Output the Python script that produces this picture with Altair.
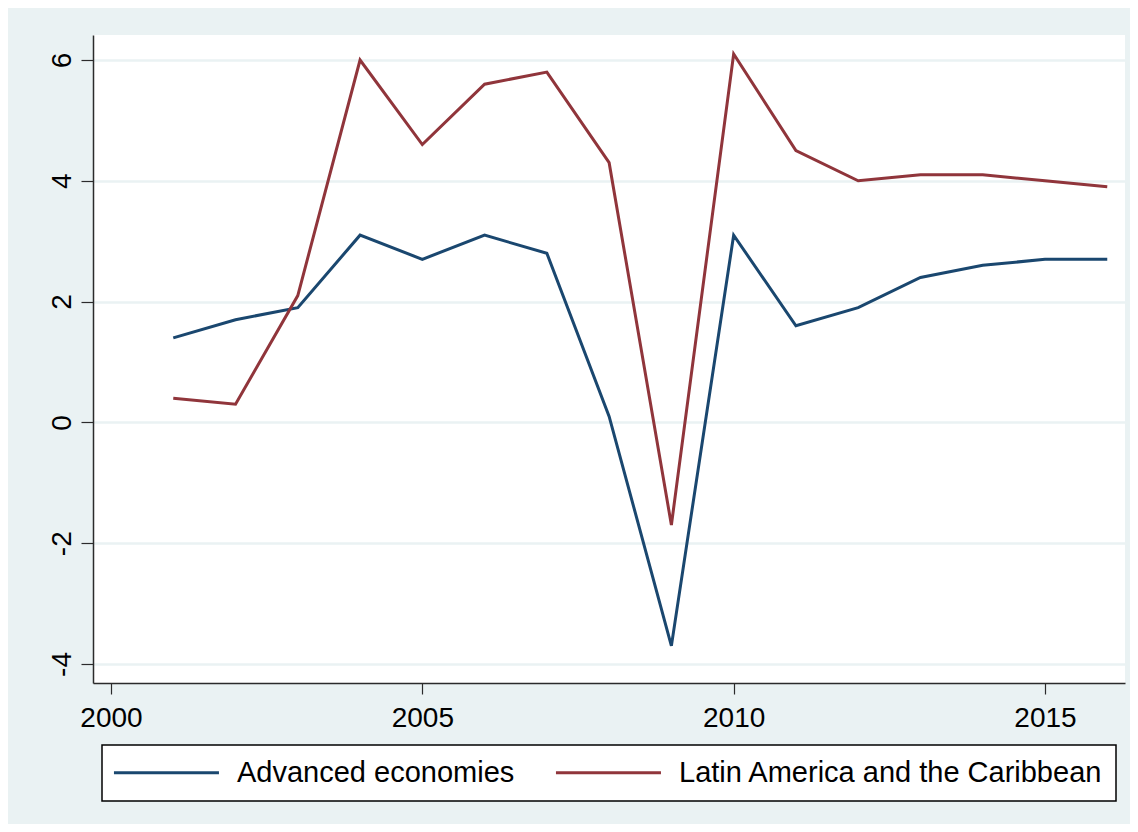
import altair as alt
import pandas as pd

years = list(range(2001, 2017))
advanced = [1.4, 1.7, 1.9, 3.1, 2.7, 3.1, 2.8, 0.1, -3.7, 3.1, 1.6, 1.9, 2.4, 2.6, 2.7, 2.7]
latam = [0.4, 0.3, 2.1, 6.0, 4.6, 5.6, 5.8, 4.3, -1.7, 6.1, 4.5, 4.0, 4.1, 4.1, 4.0, 3.9]
series_names = ["Advanced economies", "Latin America and the Caribbean"]
series_colors = ["#1a476f", "#90353b"]
x_ticks = [2000, 2005, 2010, 2015]
y_ticks = [-4, -2, 0, 2, 4, 6]

rows = []
for name, vals in zip(series_names, [advanced, latam]):
    for yr, v in zip(years, vals):
        rows.append({"year": yr, "value": v, "series": name})
df = pd.DataFrame(rows)

FONT = "Liberation Sans"
AXC = "#2b2b2b"

chart = alt.Chart(df).mark_line(strokeWidth=3).encode(
    x=alt.X(
        "year:Q",
        scale=alt.Scale(domain=[1999.711, 2016.285], nice=False, zero=False),
        axis=alt.Axis(
            values=x_ticks, format="d", title=None, grid=False,
            labelFontSize=28, labelFont=FONT, labelColor="black",
            tickSize=11, tickColor=AXC, tickWidth=1.2,
            domainColor=AXC, domainWidth=1.5,
            labelPadding=10, labelFlush=False,
        ),
    ),
    y=alt.Y(
        "value:Q",
        scale=alt.Scale(domain=[-4.315, 6.414], nice=False, zero=False),
        axis=alt.Axis(
            values=y_ticks, title=None, grid=True,
            labelExpr="'' + datum.value",
            gridColor="#eaf2f3", gridWidth=2.5,
            labelAngle=270, labelAlign="center", labelBaseline="alphabetic",
            labelFontSize=28, labelFont=FONT, labelColor="black",
            tickSize=12, tickColor=AXC, tickWidth=1.2,
            domainColor=AXC, domainWidth=1.5,
            labelPadding=11, labelFlush=False,
        ),
    ),
    color=alt.Color(
        "series:N",
        scale=alt.Scale(domain=series_names, range=series_colors),
        legend=alt.Legend(
            title=None, orient="none", legendX=9, legendY=710,
            direction="horizontal", symbolType="M-1.48,0H8.52", symbolSize=441,
            symbolStrokeWidth=3, labelFontSize=29, labelFont=FONT,
            labelColor="black", labelOffset=93, columnPadding=34,
            padding=13, strokeColor="black", fillColor="white",
            labelLimit=1000, cornerRadius=0,
        ),
    ),
).properties(
    width=1032,
    height=648,
    autosize="none",
    padding={"left": 85, "top": 27, "right": 5, "bottom": 141},
    background="#eaf2f3",
).configure_view(
    fill="white", stroke=None
).configure_legend(
    strokeWidth=1.5
)

chart.save("out.html", embed_options={"renderer": "svg", "actions": False})
